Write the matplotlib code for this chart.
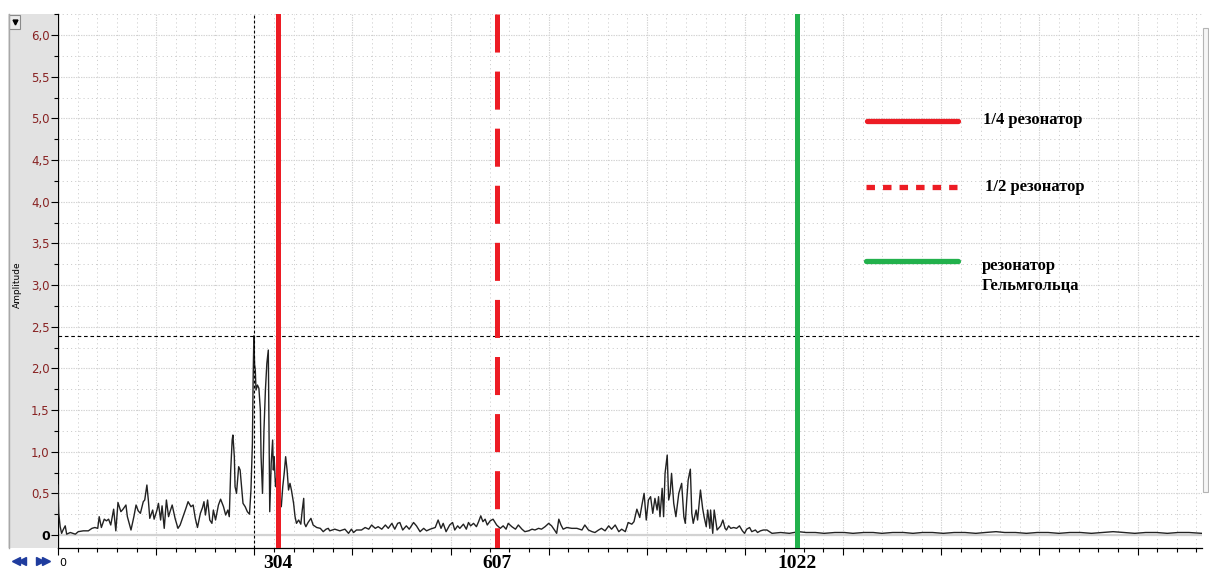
import numpy as np
import matplotlib
matplotlib.use("Agg")
import matplotlib.pyplot as plt
from matplotlib.patches import Rectangle
from matplotlib.lines import Line2D
from matplotlib.ticker import MultipleLocator
from matplotlib.transforms import blended_transform_factory

plt.rcParams['lines.scale_dashes'] = False

# Amplitude spectrum, frequency in Hz, split by band
freq_low = [0, 1, 3, 5, 7, 10, 12, 17, 24, 28, 35, 42, 47, 51, 55, 57, 60, 64, 67, 70,
            73, 77, 80, 83, 87, 90, 94, 96, 101, 105, 108, 111, 114, 118, 120, 123, 125, 127, 131, 133,
            137, 139, 142, 144, 147, 150, 153, 155, 158, 162, 166, 169, 173, 177, 180, 184, 187, 190, 193, 197,
            200, 202, 204, 207, 210, 213, 215, 218, 222, 225, 229, 232, 235, 237]
amp_low = [0.60, 0.26, 0.10, 0.02, 0.06, 0.11, 0.01, 0.03, 0.01, 0.04, 0.05, 0.05, 0.08, 0.09, 0.08, 0.22, 0.09, 0.19, 0.17, 0.19,
           0.12, 0.31, 0.05, 0.39, 0.28, 0.31, 0.36, 0.22, 0.06, 0.22, 0.36, 0.29, 0.26, 0.40, 0.42, 0.60, 0.42, 0.20, 0.30, 0.19,
           0.30, 0.38, 0.18, 0.35, 0.08, 0.42, 0.22, 0.28, 0.36, 0.20, 0.08, 0.12, 0.22, 0.32, 0.40, 0.34, 0.36, 0.20, 0.09, 0.26,
           0.33, 0.40, 0.24, 0.42, 0.18, 0.14, 0.30, 0.18, 0.36, 0.43, 0.34, 0.24, 0.30, 0.22]

freq_peak = [239, 241, 242, 244, 245, 247, 250, 252, 254, 256, 259, 262, 265, 267, 269, 270, 271, 272, 273, 274,
             276, 278, 280, 281, 283, 285, 287, 289, 291, 292, 293, 295, 297, 298, 299, 301, 304, 306, 309, 311,
             313, 315, 317, 319, 321, 323, 326, 328, 330, 333, 336, 338, 340, 341, 343, 346, 350, 353, 358, 363,
             367, 371, 374]
amp_peak = [0.78, 1.14, 1.20, 0.94, 0.58, 0.50, 0.82, 0.78, 0.58, 0.38, 0.34, 0.28, 0.25, 0.54, 1.10, 1.86, 2.39, 2.05, 1.98, 1.74,
            1.80, 1.76, 1.50, 0.94, 0.50, 1.26, 1.74, 2.06, 2.22, 1.26, 0.28, 0.86, 1.14, 0.78, 0.94, 0.58, 0.78, 0.34, 0.34, 0.58,
            0.74, 0.94, 0.78, 0.54, 0.62, 0.54, 0.38, 0.22, 0.14, 0.18, 0.13, 0.30, 0.44, 0.14, 0.10, 0.15, 0.20, 0.12, 0.09, 0.08,
            0.04, 0.07, 0.08]

freq_mid = [376, 383, 390, 397, 402, 406, 409, 413, 420, 425, 430, 434, 439, 443, 448, 453, 457, 462, 466, 470,
            473, 477, 482, 486, 492, 496, 501, 506, 510, 515, 522, 526, 530, 533, 537, 542, 546, 549, 553, 556,
            561, 565, 568, 571, 575, 579, 582, 585, 588, 591, 594, 598, 602, 607, 612, 616, 620, 623, 628, 633,
            637, 642, 646, 651, 656, 660, 665, 669, 674, 679, 683, 687, 690, 693, 696, 699, 704, 711, 718, 725,
            729, 734, 739, 743, 748, 752, 757, 762, 766, 771, 776, 780, 785, 789, 794, 797, 801, 805]
amp_mid = [0.05, 0.07, 0.05, 0.07, 0.02, 0.07, 0.03, 0.06, 0.06, 0.09, 0.07, 0.12, 0.08, 0.10, 0.07, 0.12, 0.08, 0.14, 0.07, 0.14,
           0.15, 0.06, 0.11, 0.07, 0.15, 0.11, 0.04, 0.08, 0.05, 0.07, 0.09, 0.18, 0.08, 0.14, 0.04, 0.12, 0.15, 0.06, 0.11, 0.08,
           0.13, 0.07, 0.15, 0.11, 0.14, 0.10, 0.16, 0.23, 0.16, 0.19, 0.12, 0.17, 0.19, 0.12, 0.08, 0.11, 0.07, 0.14, 0.10, 0.07,
           0.12, 0.07, 0.04, 0.05, 0.07, 0.06, 0.08, 0.07, 0.10, 0.14, 0.11, 0.06, 0.02, 0.19, 0.12, 0.07, 0.09, 0.08, 0.08, 0.06,
           0.12, 0.06, 0.04, 0.03, 0.06, 0.08, 0.05, 0.11, 0.07, 0.12, 0.04, 0.07, 0.04, 0.15, 0.13, 0.16, 0.31, 0.21]

freq_hump = [808, 811, 814, 817, 820, 823, 826, 829, 831, 833, 836, 838, 840, 843, 845, 847, 849, 852, 855, 859,
             863, 866, 868, 870, 872, 875, 877, 879, 883, 885, 889, 892, 894, 897, 899, 902, 903, 906, 908, 912,
             914, 917, 920, 923, 925, 928, 931, 935, 939, 943, 947, 950, 953, 957, 960, 965, 968, 972, 976, 981]
amp_hump = [0.36, 0.50, 0.18, 0.42, 0.46, 0.26, 0.44, 0.30, 0.46, 0.22, 0.56, 0.22, 0.74, 0.96, 0.42, 0.50, 0.74, 0.38, 0.22, 0.50,
            0.62, 0.22, 0.14, 0.42, 0.66, 0.79, 0.26, 0.14, 0.30, 0.18, 0.54, 0.32, 0.22, 0.10, 0.30, 0.08, 0.30, 0.02, 0.30, 0.06,
            0.08, 0.11, 0.18, 0.08, 0.06, 0.11, 0.08, 0.09, 0.08, 0.11, 0.05, 0.02, 0.07, 0.09, 0.04, 0.06, 0.03, 0.05, 0.06, 0.06]

freq_high = [988, 1000, 1012, 1025, 1035, 1048, 1060, 1075, 1088, 1100, 1115, 1128, 1140, 1155, 1170, 1183, 1196, 1210, 1225, 1240,
             1255, 1270, 1283, 1298, 1310, 1325, 1340, 1355, 1370, 1385, 1400, 1415, 1430, 1445, 1460, 1475, 1490, 1505, 1520, 1535,
             1550, 1565, 1583]
amp_high = [0.02, 0.03, 0.02, 0.04, 0.03, 0.03, 0.02, 0.03, 0.03, 0.02, 0.03, 0.03, 0.02, 0.03, 0.03, 0.02, 0.03, 0.03, 0.02, 0.03,
            0.03, 0.02, 0.03, 0.04, 0.03, 0.03, 0.02, 0.03, 0.03, 0.02, 0.03, 0.03, 0.02, 0.03, 0.04, 0.03, 0.02, 0.03, 0.03, 0.02,
            0.03, 0.03, 0.02]

# resonator frequencies and legend entries
res_freqs = [304, 607, 1022]
res_labels = ["1/4 резонатор", "1/2 резонатор", "резонатор\nГельмгольца"]
res_colors = ["#ed1c24", "#ed1c24", "#22b14c"]

y_ticks = [0, 0.5, 1.0, 1.5, 2.0, 2.5, 3.0, 3.5, 4.0, 4.5, 5.0, 5.5, 6.0]

freq = np.array(freq_low + freq_peak + freq_mid + freq_hump + freq_high)
amp = np.array(amp_low + amp_peak + amp_mid + amp_hump + amp_high)

W, H = 1209, 571
X_MAX = 1583
Y_MIN, Y_MAX = -0.156, 6.254
STEP = 135.8  # major grid spacing along the frequency axis


def fx(px):
    return px / W


def fy(py):
    return 1 - py / H


fig = plt.figure(figsize=(W / 100, H / 100), dpi=100)
fig.patch.set_facecolor("white")
ax = fig.add_axes([fx(58), fy(548), 1144 / W, 534 / H])

# grey strip behind the amplitude scale
fig.patches.append(Rectangle((fx(8), fy(548)), 49 / W, 534 / H, transform=fig.transFigure,
                             facecolor="#e2e2e2", edgecolor="none", zorder=-2))
fig.add_artist(Line2D([fx(8.5), fx(8.5)], [fy(548), fy(14)], color="#a8a8a8", lw=1.0))
# small drop-down button
fig.patches.append(Rectangle((fx(9), fy(29)), 11 / W, 14 / H, transform=fig.transFigure,
                             facecolor="#ececec", edgecolor="#8a8a8a", lw=0.8, zorder=-1))
fig.add_artist(Line2D([fx(14.5)], [fy(21.5)], marker="v", color="black", markersize=3.5, linestyle="none"))
# scroll buttons
nav_blue = "#1f3c9e"
fig.add_artist(Line2D([fx(16), fx(22)], [fy(561)] * 2, marker="<", color=nav_blue, markersize=6, linestyle="none"))
fig.add_artist(Line2D([fx(40), fx(46)], [fy(561)] * 2, marker=">", color=nav_blue, markersize=6, linestyle="none"))
# slider on the right
fig.patches.append(Rectangle((fx(1203), fy(492)), 5 / W, 464 / H, transform=fig.transFigure,
                             facecolor="#f6f6f6", edgecolor="#b4b4b4", lw=0.8, zorder=-1))
fig.text(fx(17), fy(285), "Amplitude", rotation=90, fontsize=6.5, ha="center", va="center")

ax.set_xlim(0, X_MAX)
ax.set_ylim(Y_MIN, Y_MAX)

ax.xaxis.set_major_locator(MultipleLocator(STEP))
ax.xaxis.set_minor_locator(MultipleLocator(STEP / 5))
ax.set_yticks(y_ticks)
ax.yaxis.set_minor_locator(MultipleLocator(0.25))
ax.set_yticklabels(["0" if v == 0 else f"{v:.1f}".replace(".", ",") for v in y_ticks])

ax.tick_params(axis="x", which="major", direction="out", length=5, width=0.8, labelbottom=False)
ax.tick_params(axis="x", which="minor", direction="out", length=3, width=0.8)
ax.tick_params(axis="y", which="major", direction="out", length=5, width=0.8, pad=1,
               labelsize=8.5, labelcolor="#882222")
ax.tick_params(axis="y", which="minor", direction="out", length=3, width=0.8)
for lab in ax.get_yticklabels():
    if lab.get_text() == "0":
        lab.set_color("black")
        lab.set_fontweight("bold")
        lab.set_fontsize(9)

for side in ("top", "right"):
    ax.spines[side].set_visible(False)
for side in ("left", "bottom"):
    ax.spines[side].set_color("black")
    ax.spines[side].set_linewidth(0.9)

ax.set_axisbelow(True)
ax.grid(which="major", color="#d4d4d4", linestyle=(0, (1, 0.8)), linewidth=0.8)
ax.grid(which="minor", color="#cdcdcd", linestyle=(0, (0.8, 2.2)), linewidth=0.7)

ax.axhline(0, color="#d2d2d2", lw=1.6, zorder=2)
ax.plot(freq, amp, color="#222222", lw=1.0, zorder=3)

# cursor on the main peak
i_max = int(np.argmax(amp))
ax.axhline(amp[i_max], color="black", lw=0.8, linestyle=(0, (2.6, 2.0)), zorder=4)
ax.axvline(freq[i_max], color="black", lw=0.8, linestyle=(0, (2.0, 1.6)), zorder=4)

# resonator markers
ax.axvline(res_freqs[0], color=res_colors[0], lw=3.6, zorder=5)
ax.plot([res_freqs[1]] * 2, [Y_MAX, Y_MIN], color=res_colors[1], lw=3.6, zorder=5,
        dashes=(27.4, 13.7), dash_capstyle="butt")
ax.axvline(res_freqs[2], color=res_colors[2], lw=3.6, zorder=5)

# hand-placed legend
serif = dict(family="Liberation Serif", fontweight="bold")
leg_rows = [0.8002, 0.6760, 0.5375]
ax.plot([0.7072, 0.7867], [leg_rows[0]] * 2, transform=ax.transAxes, color=res_colors[0],
        lw=3.8, solid_capstyle="round", zorder=6)
ax.plot([0.7063, 0.7858], [leg_rows[1]] * 2, transform=ax.transAxes, color=res_colors[1],
        lw=3.8, dashes=(6.1, 5.8), dash_capstyle="butt", zorder=6)
ax.plot([0.7063, 0.7867], [leg_rows[2]] * 2, transform=ax.transAxes, color=res_colors[2],
        lw=3.8, solid_capstyle="round", zorder=6)
ax.text(0.8086, 0.8015, res_labels[0], transform=ax.transAxes, va="center", fontsize=12, **serif)
ax.text(0.8103, 0.6760, res_labels[1], transform=ax.transAxes, va="center", fontsize=12, **serif)
ax.text(0.8077, 0.5094, res_labels[2], transform=ax.transAxes, va="center", fontsize=12,
        linespacing=1.3, **serif)

# frequency labels under the axis
trans = blended_transform_factory(ax.transData, ax.transAxes)
ax.text(2, -0.029, "0", transform=trans, ha="left", va="center", fontsize=8, clip_on=False)
for f in res_freqs:
    ax.text(f, -0.029, str(f), transform=trans, ha="center", va="center", fontsize=14,
            clip_on=False, **serif)

fig.savefig("out.png", dpi=100)
